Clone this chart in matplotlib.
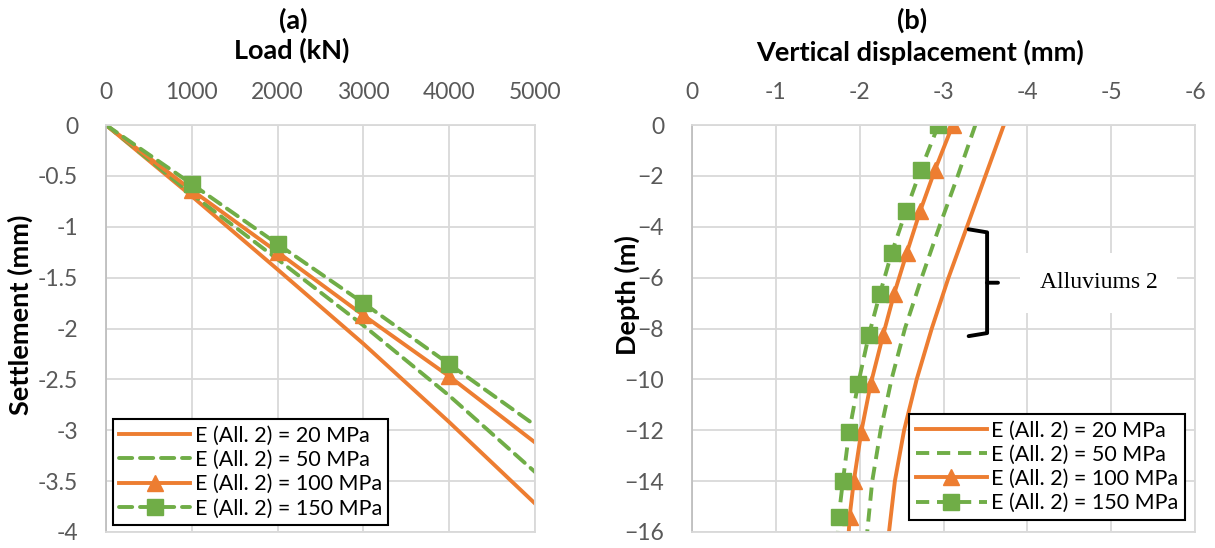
import matplotlib.pyplot as plt
from matplotlib.ticker import MultipleLocator

plt.rcParams['font.family'] = ['Lato', 'DejaVu Sans']

ORANGE = '#ED7D31'
GREEN = '#70AD47'
GRID = '#D9D9D9'
TICK = '#595959'

labels = ['E (All. 2) = 20 MPa', 'E (All. 2) = 50 MPa',
          'E (All. 2) = 100 MPa', 'E (All. 2) = 150 MPa']

# (a) load - settlement curves
load = [0, 1000, 2000, 3000, 4000, 5000]
settle_20 = [0, -0.70, -1.42, -2.15, -2.92, -3.72]
settle_50 = [0, -0.68, -1.32, -1.97, -2.66, -3.41]
settle_100 = [0, -0.64, -1.25, -1.87, -2.47, -3.12]
settle_150 = [0, -0.58, -1.17, -1.75, -2.35, -2.95]

# (b) vertical displacement along the pile
depth_even = [0, -2, -4, -6, -8, -10, -12, -14, -16]
disp_20 = [-3.72, -3.50, -3.28, -3.06, -2.86, -2.68, -2.53, -2.42, -2.35]
disp_50 = [-3.38, -3.17, -2.95, -2.74, -2.54, -2.38, -2.25, -2.15, -2.09]
depth_mk = [0, -1.75, -3.4, -5.05, -6.65, -8.25, -10.2, -12.05, -14.0, -15.4, -16]
disp_100 = [-3.11, -2.90, -2.72, -2.56, -2.41, -2.28, -2.13, -2.02, -1.93, -1.88, -1.87]
disp_150 = [-2.94, -2.73, -2.55, -2.38, -2.24, -2.11, -1.98, -1.875, -1.80, -1.75, -1.74]

W, H = 1215, 548
fig = plt.figure(figsize=(W / 100, H / 100), dpi=100)
ax1 = fig.add_axes([106 / W, 16 / H, 429 / W, 407 / H])
ax2 = fig.add_axes([692 / W, 16 / H, 503 / W, 407 / H])

lw = 2.8
dash = (3.4, 2.0)


def style(ax):
    ax.grid(True, color=GRID, lw=1.3)
    ax.set_axisbelow(True)
    for s in ax.spines.values():
        s.set_color(GRID)
        s.set_linewidth(1.3)
    ax.spines['left'].set_color('#BFBFBF')
    ax.xaxis.tick_top()
    ax.tick_params(length=0, labelsize=16.5, labelcolor=TICK)
    ax.tick_params(axis='x', pad=16)
    ax.tick_params(axis='y', pad=20)


def add_legend(ax, **kw):
    leg = ax.legend(borderaxespad=0, fontsize=15.5, fancybox=False,
                    edgecolor='black', framealpha=1, handlelength=3.3,
                    handletextpad=0.2, labelspacing=0.2, borderpad=0.3, **kw)
    leg.get_frame().set_linewidth(1.5)


def fig_text(x, y, s, **kw):
    fig.text(x / W, 1 - y / H, s, ha='center', va='center',
             fontsize=19.5, fontweight='bold', **kw)


# ---- panel (a)
ax1.plot(load, settle_20, color=ORANGE, lw=lw, label=labels[0])
ax1.plot(load, settle_50, color=GREEN, lw=lw, dashes=dash,
         dash_capstyle='round', label=labels[1])
ax1.plot(load, settle_100, color=ORANGE, lw=lw, marker='^', ms=11,
         markevery=[1, 2, 3, 4], label=labels[2])
ax1.plot(load, settle_150, color=GREEN, lw=lw, dashes=dash,
         dash_capstyle='round', marker='s', ms=11,
         markevery=[1, 2, 3, 4], label=labels[3])
ax1.set_xlim(0, 5000)
ax1.set_ylim(-4, 0)
ax1.xaxis.set_major_locator(MultipleLocator(1000))
ax1.yaxis.set_major_locator(MultipleLocator(0.5))
ax1.yaxis.set_major_formatter(lambda v, p: f'{v:g}')
style(ax1)
add_legend(ax1, loc='lower left', bbox_to_anchor=(0.016, 0.017))
fig_text(293, 20, '(a)')
fig_text(292, 50, 'Load (kN)')
fig_text(20, 315, 'Settlement (mm)', rotation=90)

# ---- panel (b)
ax2.plot(disp_20, depth_even, color=ORANGE, lw=lw, label=labels[0])
ax2.plot(disp_50, depth_even, color=GREEN, lw=lw, dashes=dash,
         label=labels[1])
ax2.plot(disp_100, depth_mk, color=ORANGE, lw=lw, marker='^', ms=11,
         markevery=list(range(10)), label=labels[2])
ax2.plot(disp_150, depth_mk, color=GREEN, lw=lw, dashes=dash,
         marker='s', ms=11, markevery=list(range(10)), label=labels[3])
ax2.set_xlim(0, -6)
ax2.set_ylim(-16, 0)
ax2.xaxis.set_major_locator(MultipleLocator(1))
ax2.yaxis.set_major_locator(MultipleLocator(2))
ax2.xaxis.set_major_formatter(lambda v, p: f'{v:g}')
style(ax2)
add_legend(ax2, loc='lower right', bbox_to_anchor=(0.98, 0.03))
fig_text(912, 20, '(b)')
fig_text(920, 52, 'Vertical displacement (mm)')
fig_text(627, 295, 'Depth (m)', rotation=90)

# brace marking the Alluviums 2 layer
b_top, b_bot, b_mid = -4.1, -8.3, -6.2
b_in, b_bar, b_tip = -3.30, -3.52, -3.65
ax2.plot([b_in, b_bar, b_bar, b_tip], [b_top, b_top - 0.12, b_mid, b_mid],
         color='black', lw=2.8, solid_joinstyle='round', solid_capstyle='round')
ax2.plot([b_bar, b_bar, b_in], [b_mid, b_bot + 0.12, b_bot],
         color='black', lw=2.8, solid_joinstyle='round', solid_capstyle='round')
ax2.text(-4.85, -6.2, 'Alluviums 2', family='Liberation Serif', fontsize=17,
         ha='center', va='center',
         bbox=dict(facecolor='white', edgecolor='none', pad=14))

fig.savefig('out.png', dpi=100)
